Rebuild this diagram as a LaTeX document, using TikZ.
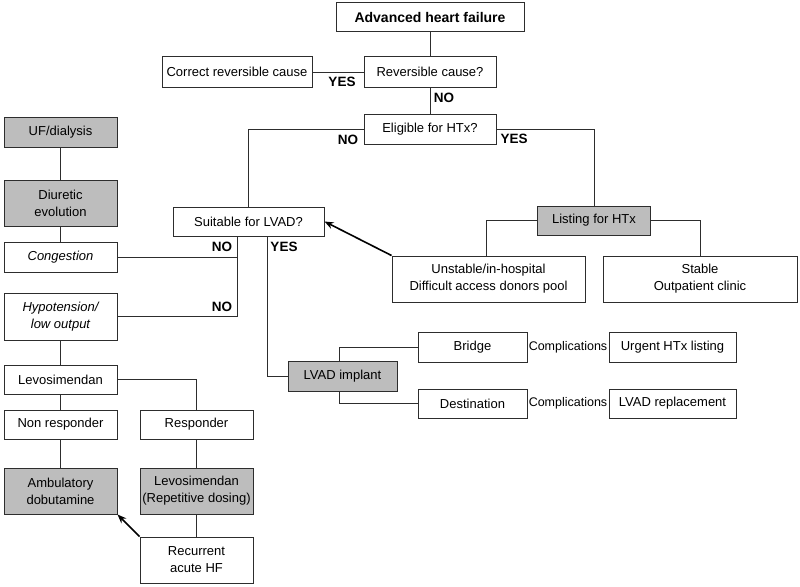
\documentclass[tikz,border=0pt]{standalone}
\usepackage{fontspec}
\setmainfont{Liberation Sans}
\usetikzlibrary{arrows.meta,calc}
\definecolor{boxgray}{RGB}{189,189,189}
\definecolor{linecol}{RGB}{45,45,45}
\begin{document}
\begin{tikzpicture}[x=1pt,y=-1pt,
  box/.style={draw=linecol,line width=1pt,inner sep=0pt,align=center,
    font=\fontsize{13}{17}\selectfont},
  gbox/.style={box,fill=boxgray},
  conn/.style={draw=linecol,line width=1pt},
  arr/.style={draw=black,line width=1.6pt,-{Stealth[length=9pt,width=7pt]}},
  lab/.style={font=\fontsize{13.5}{16}\selectfont\bfseries,inner sep=0pt},
  comp/.style={font=\fontsize{12.5}{14}\selectfont,inner sep=0pt}]
\useasboundingbox (0,0) rectangle (800,586);
% top
\node[box,font=\fontsize{14}{17}\selectfont\bfseries,minimum width=188pt,minimum height=29pt] (ahf) at (430,17.5) {Advanced heart failure};
\node[box,minimum width=132pt,minimum height=30pt] (rc) at (430,72) {Reversible cause?};
\node[box,minimum width=150pt,minimum height=30pt] (crc) at (237,72) {Correct reversible cause};
\node[box,minimum width=132pt,minimum height=30pt] (elig) at (430,129) {Eligible for HTx?};
\node[box,minimum width=151pt,minimum height=29pt] (suit) at (248.5,221.5) {Suitable for LVAD?};
\node[gbox,minimum width=113pt,minimum height=29pt] (list) at (594,220.5) {Listing for HTx};
\node[box,minimum width=193pt,minimum height=46pt] (unst) at (488.5,279) {Unstable/in-hospital\\Difficult access donors pool};
\node[box,minimum width=194pt,minimum height=46pt] (stab) at (700,279) {Stable\\Outpatient clinic};
\node[gbox,minimum width=109pt,minimum height=30pt] (lvad) at (342.5,376) {LVAD implant};
\node[box,minimum width=109pt,minimum height=30pt] (bridge) at (472.5,347) {Bridge};
\node[box,minimum width=109pt,minimum height=29pt] (dest) at (472.5,403.5) {Destination};
\node[box,minimum width=127pt,minimum height=30pt] (urg) at (672.5,347) {Urgent HTx listing};
\node[box,minimum width=127pt,minimum height=29pt] (repl) at (672.5,403.5) {LVAD replacement};
\node[comp] (c1) at (568,347) {Complications};
\node[comp] (c2) at (568,403.5) {Complications};
% left column
\node[gbox,minimum width=113pt,minimum height=30pt] (uf) at (60.5,132) {UF/dialysis};
\node[gbox,minimum width=113pt,minimum height=46pt] (diur) at (60.5,203) {Diuretic\\evolution};
\node[box,minimum width=113pt,minimum height=30pt,font=\fontsize{13}{17}\selectfont\itshape] (cong) at (60.5,257) {Congestion};
\node[box,minimum width=113pt,minimum height=47pt,font=\fontsize{13}{17}\selectfont\itshape] (hypo) at (60.5,316.5) {Hypotension/\\low output};
\node[box,minimum width=113pt,minimum height=29pt] (levo) at (60.5,379.5) {Levosimendan};
\node[box,minimum width=113pt,minimum height=29pt] (nonr) at (60.5,424.5) {Non responder};
\node[box,minimum width=113pt,minimum height=29pt] (resp) at (196.5,424.5) {Responder};
\node[gbox,minimum width=113pt,minimum height=46pt] (amb) at (60.5,491) {Ambulatory\\dobutamine};
\node[gbox,minimum width=113pt,minimum height=46pt] (levr) at (196.5,491) {Levosimendan\\(Repetitive dosing)};
\node[box,minimum width=113pt,minimum height=46pt] (rec) at (196.5,560) {Recurrent\\acute HF};
% connectors
\draw[conn] (ahf) -- (rc);
\draw[conn] (rc) -- (crc);
\draw[conn] (rc) -- (elig);
\draw[conn] (elig.west) -| (suit.north);
\draw[conn] (elig.east) -| (list.north);
\draw[conn] (list.west) -| ([xshift=-2.5pt]unst.north);
\draw[conn] (list.east) -| (stab.north);
\draw[arr] (unst.north west) -- (suit.east);
\coordinate (nox) at (237,316.5);
\draw[conn] (suit.south -| nox) -- (nox) -- (hypo.east);
\draw[conn] (cong.east) -- (cong.east -| nox);
\draw[conn] ([xshift=18.5pt]suit.south) |- (lvad.west);
\draw[conn] ([xshift=-3.5pt]lvad.north) |- (bridge.west);
\draw[conn] ([xshift=-3.5pt]lvad.south) |- (dest.west);
\draw[conn] (uf) -- (diur);
\draw[conn] (diur) -- (cong);
\draw[conn] (hypo) -- (levo);
\draw[conn] (levo) -- (nonr);
\draw[conn] (nonr) -- (amb);
\draw[conn] (levo.east) -| (resp.north);
\draw[conn] (resp) -- (levr);
\draw[conn] (levr) -- (rec);
\draw[arr] (rec.north west) -- (amb.south east);
% labels
\node[lab] at (342,82) {YES};
\node[lab] at (444,98) {NO};
\node[lab] at (348,140) {NO};
\node[lab] at (514,139) {YES};
\node[lab] at (222,247) {NO};
\node[lab] at (284,247) {YES};
\node[lab] at (222,307) {NO};
\end{tikzpicture}
\end{document}
